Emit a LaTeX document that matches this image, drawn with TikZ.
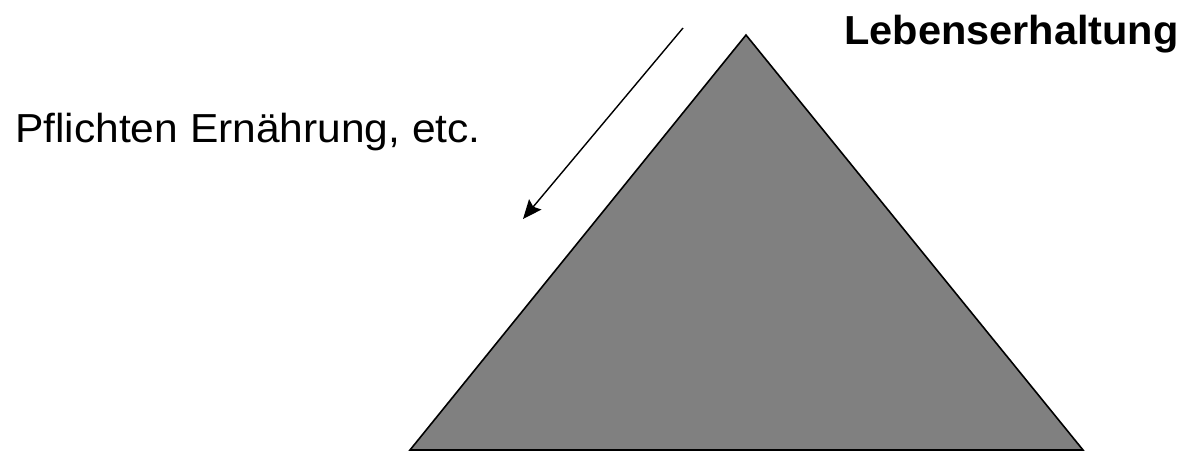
\documentclass[tikz,border=0pt]{standalone}
\usepackage{fontspec}
\setmainfont{Liberation Sans}
\usetikzlibrary{arrows.meta}

\begin{document}
\begin{tikzpicture}[x=1pt, y=-1pt, >={Stealth[length=19pt, width=16pt, inset=3pt]}]
    \useasboundingbox (0,0) rectangle (1190,451);

    % Pyramid
    \coordinate (Top) at (746, 35);
    \coordinate (BaseL) at (410, 450);
    \coordinate (BaseR) at (1083, 450);
    \draw[line width=1.6pt, fill=gray] (Top) -- (BaseR) -- (BaseL) -- cycle;

    % Labels
    \node[anchor=base west, inner sep=0pt, font=\fontsize{40.5}{48}\selectfont] (duty) at (15, 142.5) {\scalebox{1.05}[1]{Pflichten Ernährung, etc.}};
    \node[anchor=base west, inner sep=0pt, font=\fontsize{40.5}{48}\selectfont\bfseries] (life) at (844, 44) {\scalebox{1.025}[1]{Lebenserhaltung}};

    % Downward arrow
    \coordinate (ArrowStart) at (683, 28);
    \coordinate (ArrowEnd) at (523, 219);
    \draw[->, line width=1.4pt] (ArrowStart) -- (ArrowEnd);
\end{tikzpicture}
\end{document}
